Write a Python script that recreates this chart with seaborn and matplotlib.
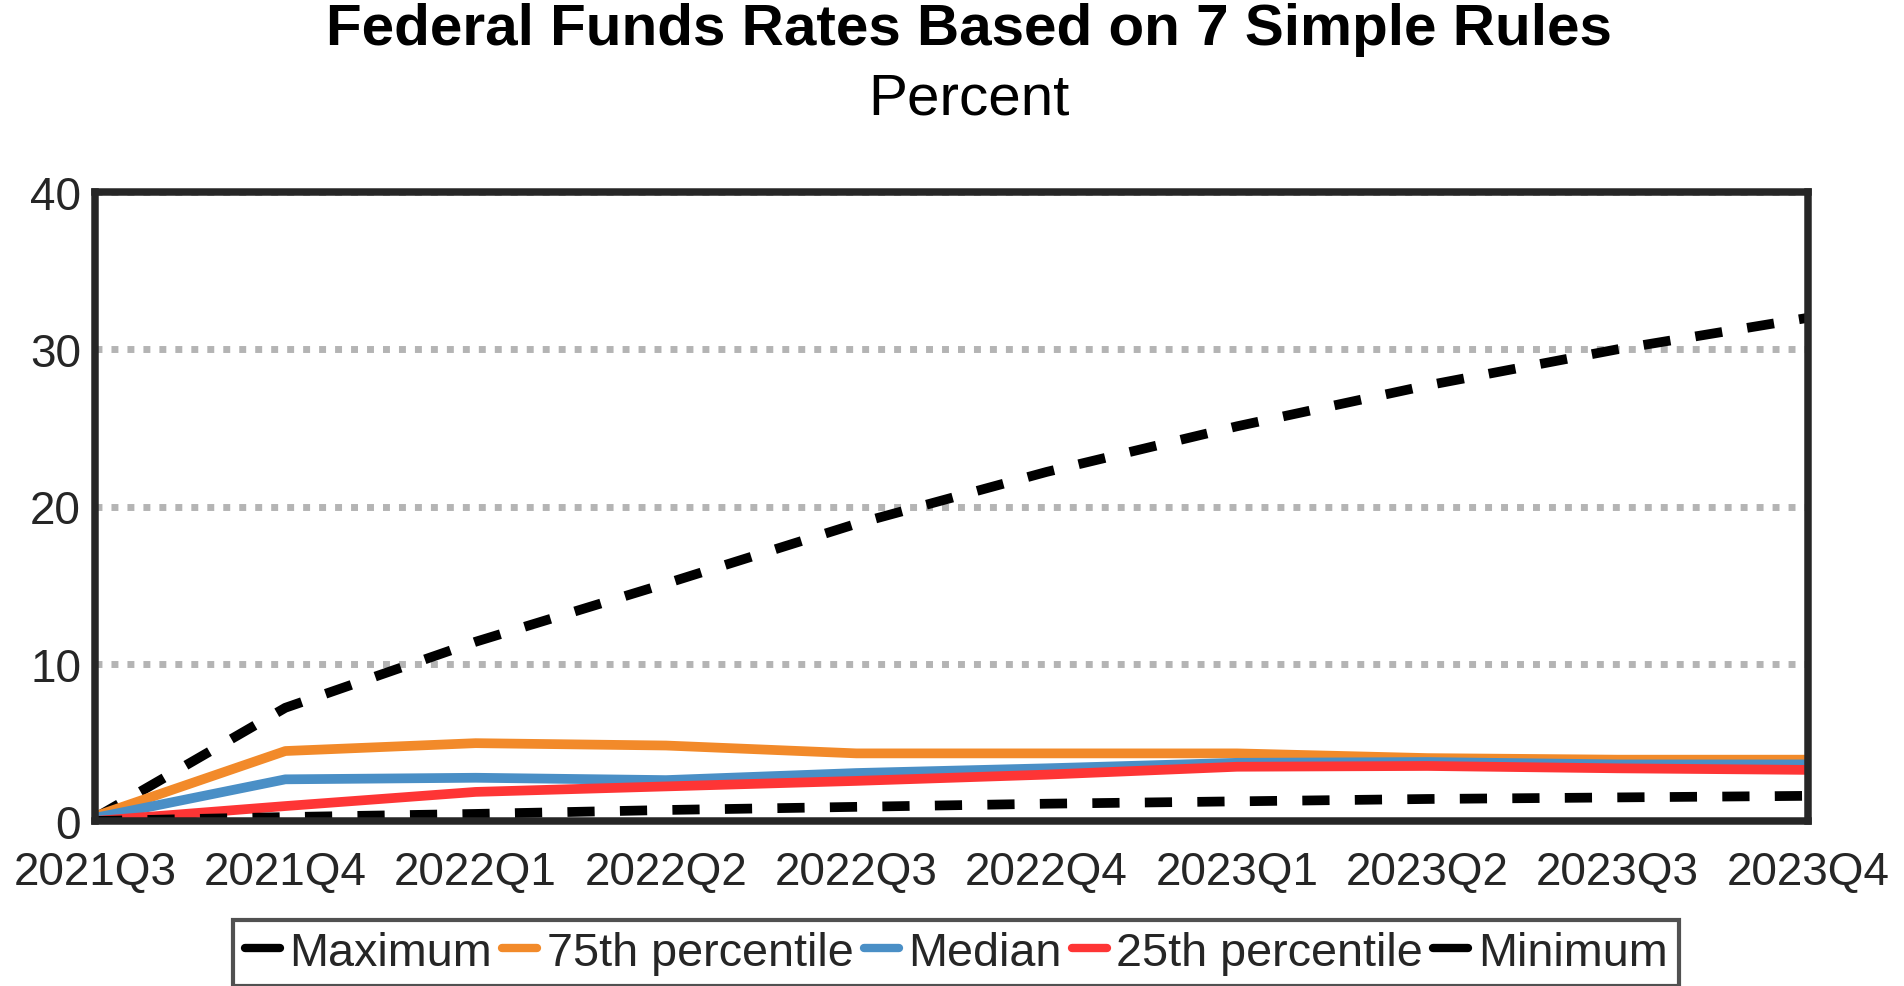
import numpy as np
import pandas as pd
import matplotlib
matplotlib.use("Agg")
import matplotlib.pyplot as plt
import seaborn as sns

# quarters on the x axis
quarters = ["2021Q3", "2021Q4", "2022Q1", "2022Q2", "2022Q3",
            "2022Q4", "2023Q1", "2023Q2", "2023Q3", "2023Q4"]

# values, percent
maximum = [0.2, 7.2, 11.4, 15.1, 18.9, 22.2, 25.1, 27.7, 30.0, 32.0]
pct75 = [0.3, 4.45, 4.95, 4.8, 4.3, 4.3, 4.3, 4.0, 3.9, 3.9]
median = [0.2, 2.65, 2.75, 2.6, 3.05, 3.35, 3.7, 3.75, 3.6, 3.6]
pct25 = [0.0, 0.95, 1.85, 2.2, 2.55, 2.95, 3.45, 3.5, 3.35, 3.25]
minimum = [0.0, 0.25, 0.45, 0.7, 0.9, 1.1, 1.25, 1.4, 1.5, 1.6]

series_names = ["Maximum", "75th percentile", "Median", "25th percentile", "Minimum"]
series_values = [maximum, pct75, median, pct25, minimum]

rows = []
for name, vals in zip(series_names, series_values):
    for q, v in zip(quarters, vals):
        rows.append({"quarter": q, "value": v, "series": name})
df = pd.DataFrame(rows)

palette = {
    "Maximum": "#000000",
    "75th percentile": "#f28a2a",
    "Median": "#4a8fc6",
    "25th percentile": "#fe3535",
    "Minimum": "#000000",
}
dashes = {
    "Maximum": (2.8, 2.6),
    "75th percentile": "",
    "Median": "",
    "25th percentile": "",
    "Minimum": (2.8, 2.6),
}

sns.set_theme(style="white")
plt.rcParams["font.family"] = ["Liberation Sans", "DejaVu Sans"]

fig = plt.figure(figsize=(19.04, 9.87), dpi=100)
ax = fig.add_axes([95 / 1904, 1 - 822 / 987, (1808 - 95) / 1904, (822 - 193) / 987])

sns.lineplot(data=df, x="quarter", y="value", hue="series", style="series",
             hue_order=series_names, style_order=series_names,
             palette=palette, dashes=dashes, linewidth=7, sort=False,
             ax=ax)

ax.set_xlim(0, len(quarters) - 1)
ax.set_ylim(0, 40)
ax.set_yticks([0, 10, 20, 30, 40])
ax.set_xlabel("")
ax.set_ylabel("")
ax.tick_params(axis="x", length=0, pad=21, labelsize=33, labelcolor="#262626")
ax.tick_params(axis="y", length=0, pad=10, labelsize=33, labelcolor="#262626")

ax.yaxis.grid(True, color="#b4b4b4", linewidth=5, linestyle=(0, (1, 1.3)))
ax.xaxis.grid(False)
for sp in ax.spines.values():
    sp.set_color("#262626")
    sp.set_linewidth(5.4)
    sp.set_visible(True)

fig.text(0.509, 0.997, "Federal Funds Rates Based on 7 Simple Rules",
         ha="center", va="top", fontsize=42, fontweight="bold", color="black")
fig.text(0.509, 0.927, "Percent", ha="center", va="top", fontsize=42, color="black")

sns.move_legend(ax, "lower center", bbox_to_anchor=(956 / 1904, 0.0),
                bbox_transform=fig.transFigure, ncol=5, title=None,
                frameon=True, fontsize=33.7, handlelength=0.75,
                handletextpad=0.2, columnspacing=0.22, borderpad=0.24,
                borderaxespad=0.0, fancybox=False)
leg = ax.get_legend()
leg.get_frame().set_edgecolor("#262626")
leg.get_frame().set_linewidth(3)
for h in leg.get_lines():
    h.set_linestyle("-")
    h.set_linewidth(6)

fig.savefig("out.png", dpi=100)
